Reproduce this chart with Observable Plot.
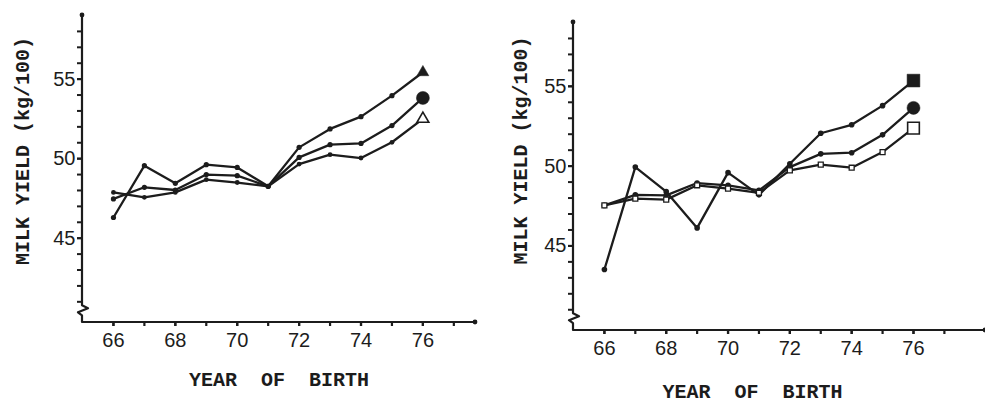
<!DOCTYPE html>
<html>
<head>
<meta charset="utf-8">
<script src="https://cdn.jsdelivr.net/npm/d3@7"></script>
<script src="https://cdn.jsdelivr.net/npm/@observablehq/plot@0.6"></script>
<style>
  html, body { margin: 0; padding: 0; background: #fff; }
  #wrap { position: relative; width: 985px; height: 405px; overflow: hidden; background: #fff; }
  #left, #right { position: absolute; top: 0; }
  #left { left: 0; }
  #right { left: 490px; }
</style>
</head>
<body>
<div id="wrap"><div id="left"></div><div id="right"></div></div>
<script>
// ---- data ----
const years = [66, 67, 68, 69, 70, 71, 72, 73, 74, 75, 76];
const xTickYears = [66, 67, 68, 69, 70, 71, 72, 73, 74, 75, 76, 77];
const xLabelYears = [66, 68, 70, 72, 74, 76];
const yLabelTicks = [45, 50, 55];
const yMinorTicks = [41, 42, 43, 44, 45, 46, 47, 48, 49, 50, 51, 52, 53, 54, 55, 56, 57, 58];
const yTitle = "MILK YIELD (kg/100)";
const xTitle = "YEAR  OF  BIRTH";

// left panel series
const leftFilledTriangle = [46.3, 49.56, 48.45, 49.62, 49.45, 48.26, 50.71, 51.87, 52.64, 53.96, 55.43];
const leftFilledCircle   = [47.47, 48.2, 48.03, 49.0, 48.93, 48.26, 50.08, 50.88, 50.96, 52.08, 53.82];
const leftOpenTriangle   = [47.88, 47.57, 47.88, 48.68, 48.5, 48.26, 49.66, 50.25, 50.04, 51.03, 52.5];

// right panel series
const rightFilledSquare = [43.52, 49.94, 48.4, 46.13, 49.59, 48.2, 50.15, 52.06, 52.59, 53.79, 55.36];
const rightFilledCircle = [47.54, 48.2, 48.17, 48.94, 48.8, 48.48, 49.94, 50.77, 50.84, 51.96, 53.65];
const rightOpenSquare   = [47.54, 47.96, 47.9, 48.8, 48.59, 48.33, 49.73, 50.09, 49.9, 50.88, 52.38];

const INK = "#1c1c1c";
const yDomain = [39.7, 59];

function table(vals) { return years.map((yr, i) => ({year: yr, value: vals[i]})); }

function axisFrame(breakValue) {
  return (index, scales, values, dims) => {
    const {x, y} = scales;
    const xd = x.domain();
    const yd = y.domain();
    const X = x(xd[0]);
    const top = y(yd[1]);
    const bottom = y(yd[0]);
    const right = x(xd[1]);
    const yb = y(breakValue);
    const g = d3.create("svg:g");
    g.append("path")
      .attr("fill", "none")
      .attr("stroke", INK)
      .attr("stroke-width", 2.2)
      .attr("stroke-linejoin", "round")
      .attr("d", `M${X},${top}V${yb}l6,3l-10,4l4,3V${bottom}H${right}`);
    g.append("circle").attr("cx", X).attr("cy", top).attr("r", 2.4).attr("fill", INK);
    g.append("circle").attr("cx", right).attr("cy", bottom).attr("r", 2.4).attr("fill", INK);
    return g.node();
  };
}

function panel(opts) {
  const {width, height, marginLeft, marginRight, marginTop, marginBottom, xDomain,
         series, yTitleDx, yTitleDy, xTitleDx, xTitleDy} = opts;
  const marks = [];
  marks.push(axisFrame(40.75));
  marks.push(Plot.axisY(yMinorTicks, {anchor: "left", label: null, tickSize: 5, strokeWidth: 2, stroke: INK, tickFormat: () => ""}));
  marks.push(Plot.axisY(yLabelTicks, {anchor: "left", label: null, tickSize: 5, tickPadding: 2, strokeWidth: 2, stroke: INK,
    fontSize: 20, fontFamily: "Liberation Sans", fill: INK, stroke: INK, tickFormat: d => String(d)}));
  marks.push(Plot.axisX(xTickYears, {anchor: "bottom", label: null, tickSize: 4, strokeWidth: 2.2, stroke: INK, tickFormat: () => ""}));
  marks.push(Plot.axisX(xLabelYears, {anchor: "bottom", label: null, tickSize: 4, tickPadding: 6, strokeWidth: 2.2, stroke: INK,
    fontSize: 20, fontFamily: "Liberation Sans", fill: INK, tickFormat: d => String(d)}));
  for (const s of series) {
    const data = table(s.values);
    marks.push(Plot.line(data, {x: "year", y: "value", stroke: INK, strokeWidth: 2.3}));
    marks.push(Plot.dot(data.slice(0, -1), {x: "year", y: "value", r: s.smallR, symbol: s.smallSymbol,
      fill: s.smallFill, stroke: INK, strokeWidth: s.smallFill === "white" ? 1.3 : 0}));
    marks.push(Plot.dot(data.slice(-1), {x: "year", y: "value", r: s.endR, symbol: s.endSymbol,
      fill: s.endFill, stroke: INK, strokeWidth: s.endFill === "white" ? 1.6 : 0.5}));
  }
  marks.push(Plot.text([yTitle], {frameAnchor: "left", textAnchor: "middle", rotate: -90, dx: yTitleDx, dy: yTitleDy,
    fontFamily: "Liberation Mono", fontWeight: "bold", fontSize: 20, fill: INK}));
  marks.push(Plot.text([xTitle], {frameAnchor: "bottom", textAnchor: "middle", dx: xTitleDx, dy: xTitleDy,
    fontFamily: "Liberation Mono", fontWeight: "bold", fontSize: 20, fill: INK,
    style: "white-space: pre"}));
  return Plot.plot({
    width, height, marginLeft, marginRight, marginTop, marginBottom,
    style: {background: "transparent", overflow: "visible"},
    x: {domain: xDomain, axis: null},
    y: {domain: yDomain, axis: null},
    marks
  });
}

const left = panel({
  width: 490, height: 405, marginLeft: 82, marginRight: 15, marginTop: 15, marginBottom: 83,
  xDomain: [65, 77.7],
  yTitleDx: -60, yTitleDy: -18, xTitleDx: 0, xTitleDy: 63,
  series: [
    {values: leftFilledTriangle, smallR: 2.6, smallSymbol: "circle", smallFill: INK, endSymbol: "triangle", endR: 4.4, endFill: INK},
    {values: leftFilledCircle, smallR: 2.6, smallSymbol: "circle", smallFill: INK, endSymbol: "circle", endR: 6.5, endFill: INK},
    {values: leftOpenTriangle, smallR: 2.4, smallSymbol: "circle", smallFill: INK, endSymbol: "triangle", endR: 4.4, endFill: "white"}
  ]
});
const right = panel({
  width: 495, height: 405, marginLeft: 83, marginRight: 0, marginTop: 22, marginBottom: 75,
  xDomain: [65, 78.33],
  yTitleDx: -53, yTitleDy: -26, xTitleDx: -27, xTitleDy: 67,
  series: [
    {values: rightFilledSquare, smallR: 2.8, smallSymbol: "circle", smallFill: INK, endSymbol: "square", endR: 7.2, endFill: INK},
    {values: rightFilledCircle, smallR: 2.8, smallSymbol: "circle", smallFill: INK, endSymbol: "circle", endR: 6.5, endFill: INK},
    {values: rightOpenSquare, smallR: 2.8, smallSymbol: "square", smallFill: "white", endSymbol: "square", endR: 6.6, endFill: "white"}
  ]
});
document.getElementById("left").append(left);
document.getElementById("right").append(right);
</script>
</body>
</html>
